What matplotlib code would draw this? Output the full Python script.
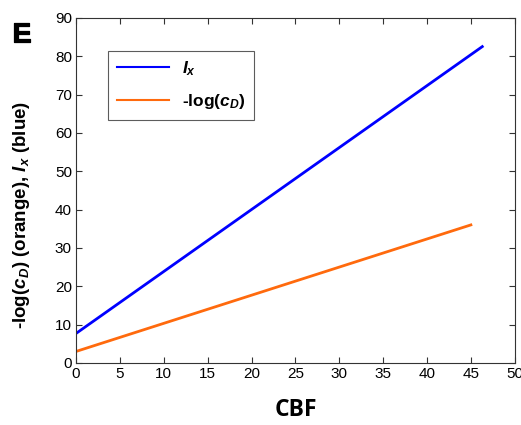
import matplotlib
matplotlib.use("Agg")
import matplotlib.pyplot as plt
import matplotlib.patheffects as pe
from matplotlib.lines import Line2D

plt.rcParams['font.family'] = ['Liberation Sans', 'DejaVu Sans']
plt.rcParams['mathtext.fontset'] = 'custom'
plt.rcParams['mathtext.rm'] = 'Liberation Sans:bold'
plt.rcParams['mathtext.it'] = 'Liberation Sans:bold:italic'
plt.rcParams['mathtext.bf'] = 'Liberation Sans:bold'

cbf_blue = [0, 46.3]
ix_vals = [7.7, 82.5]
cbf_orange = [0, 45]
logcd_vals = [3.0, 36.0]

blue = '#0000ff'
orange = '#ff6a0d'

fig = plt.figure(figsize=(5.21, 4.25), dpi=100)
ax = fig.add_axes([0.146, 0.146, 0.842, 0.812])

ax.plot(cbf_blue, ix_vals, color=blue, lw=2)
ax.plot(cbf_orange, logcd_vals, color=orange, lw=2)

ax.set_xlim(0, 50)
ax.set_ylim(0, 90)
ax.set_xticks(range(0, 51, 5))
ax.set_yticks(range(0, 91, 10))
ax.tick_params(direction='in', top=True, right=True, labelsize=11, length=4, width=0.8, color='#333333', pad=3)
for s in ax.spines.values():
    s.set_color('#333333')
    s.set_linewidth(0.8)

ax.set_xlabel('CBF', fontsize=16.5, fontweight='bold', family=['Open Sans', 'DejaVu Sans'])
ax.xaxis.set_label_coords(0.5, -0.102)
ax.set_ylabel(r'-log($c_D$) (orange), $I_x$ (blue)', fontsize=13.5, fontweight='bold')
ax.yaxis.set_label_coords(-0.10, 0.43)

handles = [Line2D([], [], color=blue, lw=1.5), Line2D([], [], color=orange, lw=1.5)]
leg = ax.legend(handles, [r'$I_x$', r'-log($c_D$)'], loc='upper left', bbox_to_anchor=(0.073, 0.905),
                fontsize=12.5, frameon=True, fancybox=False, edgecolor='#333333', handlelength=3.0,
                borderpad=0.5, labelspacing=0.8, handletextpad=0.75, borderaxespad=0)
leg.get_frame().set_linewidth(0.8)
for t in leg.get_texts():
    t.set_fontweight('bold')

fig.text(0.024, 0.948, 'E', fontsize=20, fontweight='bold', va='top', ha='left', family='Liberation Sans',
         path_effects=[pe.withStroke(linewidth=0.9, foreground='black')])

fig.savefig('out.png', dpi=100)
